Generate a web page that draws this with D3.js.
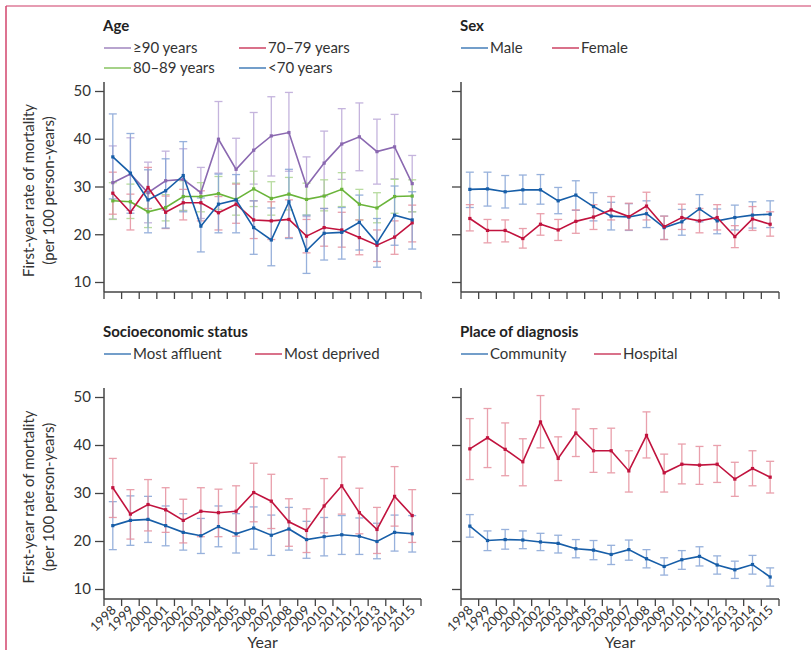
<!DOCTYPE html>
<html>
<head>
<meta charset="utf-8">
<script src="https://cdn.jsdelivr.net/npm/d3@7"></script>
<style>
  body { margin: 0; background: #fff; }
  svg { font-family: Lato, "Noto Sans", sans-serif; }
</style>
</head>
<body>
<div id="chart"></div>
<script>
const years = ['1998','1999','2000','2001','2002','2003','2004','2005','2006','2007','2008','2009','2010','2011','2012','2013','2014','2015'];
const yTicks = [10, 20, 30, 40, 50];

// Age
const age90   = [30.8,32.6,28.7,31.2,31.5,28.7,39.9,33.6,37.6,40.6,41.3,30.1,34.9,38.9,40.4,37.3,38.3,30.6];
const age90Lo = [23.2,25.0,22.4,25.0,25.0,23.3,32.8,27.0,30.5,32.2,33.2,23.7,28.0,31.5,33.3,30.5,31.6,24.7];
const age90Hi = [38.5,40.2,35.1,37.4,37.9,34.0,47.8,40.1,45.5,48.8,49.7,36.2,41.6,46.3,47.5,44.1,45.1,36.5];
const age80   = [27.0,26.8,24.7,25.6,27.9,27.9,28.5,27.3,29.5,27.5,28.4,27.3,28.0,29.4,26.3,25.5,27.9,28.0];
const age80Lo = [23.1,23.3,21.4,22.8,24.9,24.7,25.2,24.0,25.8,24.0,25.1,24.0,24.9,25.8,23.0,22.4,24.4,24.7];
const age80Hi = [30.8,30.5,28.6,28.3,31.2,30.8,32.1,30.7,33.2,31.0,31.9,30.7,31.4,32.9,29.4,28.7,31.5,31.4];
const age70   = [28.6,24.6,29.8,24.6,26.6,26.6,24.5,26.3,23.0,22.8,23.1,19.6,21.4,20.9,19.3,17.7,19.4,22.4];
const age70Lo = [24.2,20.9,25.4,21.2,23.0,22.8,20.9,22.3,19.1,18.9,19.3,16.1,17.5,17.3,15.7,14.3,15.8,18.4];
const age70Hi = [33.0,28.4,34.0,28.0,29.4,29.1,27.9,30.5,27.0,26.8,27.2,23.1,25.4,24.6,23.0,20.9,22.8,26.1];
const ageLt   = [36.2,32.8,27.2,29.1,32.3,21.7,26.3,27.2,21.4,18.8,26.8,16.6,20.2,20.4,22.5,18.2,24.0,23.0];
const ageLtLo = [27.4,24.4,20.3,21.3,24.7,16.3,20.3,20.3,15.8,13.4,19.1,11.8,14.6,14.8,16.7,13.1,17.7,16.9];
const ageLtHi = [45.2,41.1,33.5,35.8,39.4,27.6,32.6,32.5,27.0,25.5,33.6,24.0,25.4,25.6,28.2,23.3,30.1,28.9];

// Sex
const male     = [29.4,29.5,28.9,29.3,29.3,27.0,28.2,25.8,23.8,23.6,24.3,21.4,22.6,25.3,22.8,23.5,24.0,24.2];
const maleLo   = [25.6,25.9,25.5,26.3,26.3,24.3,25.0,22.8,20.9,20.8,21.4,18.9,19.8,22.6,20.1,20.9,21.3,21.4];
const maleHi   = [33.0,33.0,32.3,32.4,32.5,29.8,31.2,28.7,26.7,26.4,27.0,23.8,25.2,28.3,25.3,26.1,26.8,27.0];
const female   = [23.3,20.8,20.8,19.1,22.1,20.9,22.7,23.6,25.1,23.7,25.9,21.6,23.5,22.8,23.5,19.5,23.2,22.1];
const femaleLo = [20.7,18.2,18.4,17.1,19.8,18.7,20.2,21.0,23.0,20.9,23.0,18.9,21.0,20.3,20.9,17.2,20.8,19.6];
const femaleHi = [26.2,23.1,23.0,21.2,24.3,23.1,25.1,26.2,27.9,26.5,28.8,23.8,26.3,25.4,26.2,21.8,25.8,24.7];

// Socioeconomic status
const affluent   = [23.2,24.3,24.5,23.2,21.8,21.1,23.0,21.5,22.7,21.2,22.5,20.3,20.9,21.3,21.0,19.9,21.8,21.5];
const affluentLo = [18.2,19.1,19.7,19.0,18.1,17.4,18.8,17.5,18.3,17.0,18.1,16.4,16.9,17.2,17.2,16.3,17.9,17.7];
const affluentHi = [28.2,29.4,29.3,27.3,25.7,24.7,27.3,25.7,27.1,25.4,27.0,24.1,24.9,25.3,24.8,23.7,25.4,25.3];
const deprived   = [31.1,25.6,27.6,26.5,24.3,26.2,25.9,26.2,30.1,28.3,24.0,22.2,27.3,31.5,25.9,22.4,29.3,25.3];
const deprivedLo = [24.9,20.4,22.1,21.8,19.6,20.9,20.9,21.0,24.0,22.6,18.9,17.6,21.7,25.6,21.5,17.4,23.1,19.7];
const deprivedHi = [37.2,30.7,32.8,31.1,28.7,31.1,30.8,31.5,36.2,33.9,28.8,26.7,33.0,37.5,31.0,27.0,35.5,30.7];

// Place of diagnosis
const community   = [23.1,20.1,20.3,20.2,19.8,19.5,18.4,18.1,17.2,18.2,16.3,14.7,16.1,16.8,15.0,14.0,15.1,12.5];
const communityLo = [20.8,18.0,18.3,18.4,18.0,17.5,16.5,16.1,15.1,16.0,14.4,12.9,14.1,14.8,13.1,12.2,13.1,10.6];
const communityHi = [25.5,22.1,22.4,22.1,21.6,21.2,20.3,20.1,19.1,20.2,18.2,16.5,18.0,18.8,16.9,15.8,17.0,14.4];
const hospital    = [39.2,41.5,39.1,36.5,44.8,37.2,42.5,38.8,38.8,34.6,42.0,34.2,36.0,35.8,36.0,32.9,35.1,33.3];
const hospitalLo  = [32.8,35.3,33.6,31.5,39.4,32.6,37.6,34.3,34.2,30.2,37.3,30.2,31.9,31.8,32.2,29.3,31.5,30.0];
const hospitalHi  = [45.5,47.6,44.6,41.3,50.3,41.7,47.5,43.4,43.5,38.8,46.9,38.1,40.2,39.7,39.9,36.4,38.8,36.6];

const C = {
    purple: { line: '#8a68b0', bar: '#bba8d8' },
    green:  { line: '#6ab43a', bar: '#acd690' },
    red:    { line: '#c1133e', bar: '#e6909e' },
    blue:   { line: '#175ea8', bar: '#86a4d6' }
};

const panels = [
    { title: 'Age', left: 104, right: 421, top: 91, bottom: 282, labels: true, years: false,
      legend: [
        { name: '\u226590 years', c: C.purple, col: 0, row: 0 },
        { name: '70\u201379 years', c: C.red, col: 1, row: 0 },
        { name: '80\u201389 years', c: C.green, col: 0, row: 1 },
        { name: '<70 years', c: C.blue, col: 1, row: 1 }
      ],
      legendCols: [0, 135],
      series: [
        { v: age90, lo: age90Lo, hi: age90Hi, c: C.purple },
        { v: age80, lo: age80Lo, hi: age80Hi, c: C.green },
        { v: age70, lo: age70Lo, hi: age70Hi, c: C.red },
        { v: ageLt, lo: ageLtLo, hi: ageLtHi, c: C.blue }
      ] },
    { title: 'Sex', left: 461, right: 779, top: 91, bottom: 282, labels: false, years: false,
      legend: [
        { name: 'Male', c: C.blue, col: 0, row: 0 },
        { name: 'Female', c: C.red, col: 1, row: 0 }
      ],
      legendCols: [0, 91],
      series: [
        { v: male, lo: maleLo, hi: maleHi, c: C.blue },
        { v: female, lo: femaleLo, hi: femaleHi, c: C.red }
      ] },
    { title: 'Socioeconomic status', left: 104, right: 421, top: 397, bottom: 589, labels: true, years: true,
      legend: [
        { name: 'Most affluent', c: C.blue, col: 0, row: 0 },
        { name: 'Most deprived', c: C.red, col: 1, row: 0 }
      ],
      legendCols: [0, 151],
      series: [
        { v: affluent, lo: affluentLo, hi: affluentHi, c: C.blue },
        { v: deprived, lo: deprivedLo, hi: deprivedHi, c: C.red }
      ] },
    { title: 'Place of diagnosis', left: 461, right: 779, top: 397, bottom: 589, labels: false, years: true,
      legend: [
        { name: 'Community', c: C.blue, col: 0, row: 0 },
        { name: 'Hospital', c: C.red, col: 1, row: 0 }
      ],
      legendCols: [0, 133],
      series: [
        { v: community, lo: communityLo, hi: communityHi, c: C.blue },
        { v: hospital, lo: hospitalLo, hi: hospitalHi, c: C.red }
      ] }
];

const svg = d3.select('#chart').append('svg')
    .attr('width', 811)
    .attr('height', 655);

// frame
svg.append('line').attr('x1', 6).attr('x2', 811).attr('y1', 6).attr('y2', 6)
    .attr('stroke', '#de7b98').attr('stroke-width', 1.5);
svg.append('line').attr('x1', 6).attr('x2', 6).attr('y1', 6).attr('y2', 650)
    .attr('stroke', '#d2446c').attr('stroke-width', 1.5);

const axisColor = '#444';
const textColor = '#333';

panels.forEach(function(p){
    const x = d3.scaleBand().domain(years).range([p.left, p.right]).padding(0);
    const y = d3.scaleLinear().domain([10, 50]).range([p.bottom, p.top]);
    const base = p.bottom + 10;
    const g = svg.append('g');

    // title + legend
    const titleY = p.top - 60;
    g.append('text').attr('x', p.left - 1).attr('y', titleY)
        .attr('font-size', 15).attr('font-weight', 'bold').attr('fill', '#222')
        .text(p.title);
    p.legend.forEach(function(l){
        const lx = p.left + p.legendCols[l.col];
        const ly = titleY + 22 + l.row * 20;
        g.append('line').attr('x1', lx).attr('x2', lx + 27).attr('y1', ly - 5).attr('y2', ly - 5)
            .attr('stroke', l.c.line).attr('stroke-width', 1.5).attr('opacity', 0.8);
        g.append('text').attr('x', lx + 29).attr('y', ly)
            .attr('font-size', 15).attr('fill', textColor).text(l.name);
    });

    // y axis
    const yAxis = d3.axisLeft(y).tickValues(yTicks).tickSize(9).tickSizeOuter(0)
        .tickFormat(p.labels ? d3.format('d') : '');
    const ya = g.append('g').attr('transform', 'translate(' + p.left + ',0)').call(yAxis);
    ya.select('.domain').remove();
    ya.selectAll('.tick line').attr('stroke', axisColor).attr('stroke-width', 1.3);
    ya.selectAll('.tick text').attr('font-size', 15).attr('fill', textColor)
        .attr('font-family', 'Lato, "Noto Sans", sans-serif').attr('dx', -1);
    g.append('line').attr('x1', p.left).attr('x2', p.left).attr('y1', p.top - 9).attr('y2', base)
        .attr('stroke', axisColor).attr('stroke-width', 1.5);

    // x axis
    g.append('line').attr('x1', p.left).attr('x2', p.right).attr('y1', base).attr('y2', base)
        .attr('stroke', axisColor).attr('stroke-width', 1.5);
    const bounds = years.map(function(d){ return x(d); }).concat([x(years[years.length - 1]) + x.bandwidth()]);
    g.selectAll('.xt').data(bounds).enter().append('line')
        .attr('x1', function(d){ return d; }).attr('x2', function(d){ return d; })
        .attr('y1', base).attr('y2', base + 7)
        .attr('stroke', axisColor).attr('stroke-width', 1.3);

    if (p.years) {
        g.selectAll('.yl').data(years).enter().append('text')
            .attr('transform', function(d){
                return 'translate(' + (x(d) + x.bandwidth() / 2 + 4) + ',' + (base + 12) + ') rotate(-45)';
            })
            .attr('text-anchor', 'end')
            .attr('font-size', 13).attr('fill', textColor)
            .text(function(d){ return d; });
        g.append('text').attr('x', (p.left + p.right) / 2).attr('y', base + 49)
            .attr('text-anchor', 'middle').attr('font-size', 16).attr('fill', textColor)
            .text('Year');
    }

    if (p.labels) {
        const cy = (p.top + p.bottom) / 2 + 4;
        const lab = g.append('text').attr('transform', 'translate(34,' + cy + ') rotate(-90)')
            .attr('text-anchor', 'middle').attr('font-size', 15).attr('fill', textColor);
        lab.append('tspan').attr('x', 0).attr('dy', 0).text('First-year rate of mortality');
        lab.append('tspan').attr('x', 0).attr('dy', 20).text('(per 100 person-years)');
    }

    const cx = function(i){ return x(years[i]) + x.bandwidth() / 2; };

    // error bars
    p.series.forEach(function(s){
        const eb = g.append('g').attr('stroke', s.c.bar).attr('stroke-width', 1.3).attr('opacity', 0.85);
        s.v.forEach(function(v, i){
            eb.append('line').attr('x1', cx(i)).attr('x2', cx(i)).attr('y1', y(s.lo[i])).attr('y2', y(s.hi[i]));
            eb.append('line').attr('x1', cx(i) - 4).attr('x2', cx(i) + 4).attr('y1', y(s.lo[i])).attr('y2', y(s.lo[i]));
            eb.append('line').attr('x1', cx(i) - 4).attr('x2', cx(i) + 4).attr('y1', y(s.hi[i])).attr('y2', y(s.hi[i]));
        });
    });

    // lines
    p.series.forEach(function(s){
        const line = d3.line().x(function(d, i){ return cx(i); }).y(function(d){ return y(d); });
        g.append('path').datum(s.v).attr('d', line)
            .attr('fill', 'none').attr('stroke', s.c.line).attr('stroke-width', 1.6);
        g.selectAll(null).data(s.v).enter().append('rect')
            .attr('x', function(d, i){ return cx(i) - 1.6; })
            .attr('y', function(d){ return y(d) - 1.6; })
            .attr('width', 3.2).attr('height', 3.2)
            .attr('fill', s.c.line);
    });
});
</script>
</body>
</html>
